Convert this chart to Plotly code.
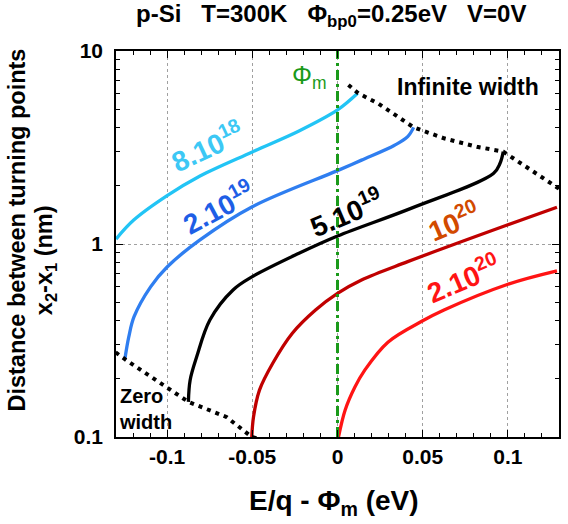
import math
import plotly.graph_objects as go

# Distance between classical turning points vs energy, p-Si, for several doping levels
x_8e18 = [-0.13, -0.1196, -0.1, -0.0807, -0.05, -0.0226, 0.0, 0.0118]
y_8e18 = [1.06, 1.33, 1.78, 2.25, 3.0, 3.85, 4.95, 6.04]

x_2e19 = [-0.1248, -0.1225, -0.1194, -0.1097, -0.1, -0.0807, -0.05, 0.0, 0.0141, 0.0335, 0.0412, 0.0447]
y_2e19 = [0.253, 0.33, 0.42, 0.60, 0.76, 1.05, 1.56, 2.40, 2.72, 3.25, 3.6, 4.02]

x_5e19 = [-0.0875, -0.0865, -0.0826, -0.0749, -0.0613, -0.05, -0.0226, 0.0, 0.0431, 0.0915, 0.0954, 0.0973]
y_5e19 = [0.152, 0.197, 0.261, 0.404, 0.578, 0.677, 0.895, 1.10, 1.53, 2.32, 2.62, 3.01]

x_1e20 = [-0.0503, -0.0493, -0.0458, -0.038, -0.0265, -0.0129, 0.0, 0.0141, 0.0412, 0.0992, 0.1288]
y_1e20 = [0.1, 0.127, 0.175, 0.241, 0.345, 0.455, 0.555, 0.651, 0.81, 1.25, 1.55]

x_2e20 = [0.0006, 0.0045, 0.0103, 0.016, 0.0296, 0.05, 0.0625, 0.0992, 0.1288]
y_2e20 = [0.1, 0.138, 0.182, 0.222, 0.31, 0.40, 0.455, 0.615, 0.725]

# Limiting curves
x_inf = [0.0064, 0.0122, 0.0238, 0.0335, 0.0447, 0.0625, 0.0818, 0.0973, 0.1108, 0.1283, 0.135]
y_inf = [6.67, 6.04, 5.35, 4.66, 4.02, 3.53, 3.19, 3.01, 2.52, 1.98, 1.8]

x_zero = [-0.1387, -0.1248, -0.1039, -0.0875, -0.0652, -0.0503, -0.037]
y_zero = [0.312, 0.253, 0.19, 0.152, 0.127, 0.1, 0.093]

x_ticks = [-0.1, -0.05, 0, 0.05, 0.1]
x_ticktext = ["-0.1", "-0.05", "0", "0.05", "0.1"]
y_ticks = [0.1, 1, 10]
y_ticktext = ["0.1", "1", "10"]

FONT = "Arial, Liberation Sans, sans-serif"

series = [
    (x_8e18, y_8e18, "#22c4f5"),
    (x_2e19, y_2e19, "#2f7ef0"),
    (x_5e19, y_5e19, "#000000"),
    (x_1e20, y_1e20, "#c00000"),
    (x_2e20, y_2e20, "#ff1414"),
]

fig = go.Figure()
for xs, ys, col in series:
    fig.add_trace(go.Scatter(x=xs, y=ys, mode="lines",
                             line=dict(color=col, width=3.3, shape="spline", smoothing=1.0),
                             showlegend=False, hoverinfo="skip"))

for xs, ys in [(x_inf, y_inf), (x_zero, y_zero)]:
    fig.add_trace(go.Scatter(x=xs, y=ys, mode="lines",
                             line=dict(color="black", width=4, dash="4px,5px"),
                             showlegend=False, hoverinfo="skip"))

# Metal work function marker
fig.add_trace(go.Scatter(x=[0, 0], y=[0.1, 10], mode="lines",
                         line=dict(color="#1a9a1a", width=3, dash="10px,4px,3px,4px"),
                         showlegend=False, hoverinfo="skip"))

# Doping labels (annotation y on a log axis is given as log10)
labels = [
    (-0.0766, 3.22, "8.10<sup>18</sup>", "#3cc8f5", -25),
    (-0.0702, 1.555, "2.10<sup>19</sup>", "#1e5ee6", -28),
    (0.0052, 1.465, "5.10<sup>19</sup>", "#000000", -23),
    (0.0679, 1.32, "10<sup>20</sup>", "#d24a00", -23),
    (0.0737, 0.665, "2.10<sup>20</sup>", "#ff1414", -23),
]
for x, y, t, c, a in labels:
    fig.add_annotation(x=x, y=math.log10(y), xref="x", yref="y", text=t, showarrow=False,
                       textangle=a, xanchor="center", yanchor="middle",
                       font=dict(family=FONT, size=28, color=c, weight="bold"))

fig.add_annotation(x=-0.0278, y=math.log10(7.3), xref="x", yref="y", text="Φ<sub>m</sub>",
                   showarrow=False, xanchor="left", yanchor="middle",
                   font=dict(family=FONT, size=25, color="#1a9a1a"))
fig.add_annotation(x=0.0338, y=math.log10(6.51), xref="x", yref="y", text="Infinite width",
                   showarrow=False, xanchor="left", yanchor="middle",
                   font=dict(family=FONT, size=23, color="black", weight="bold"))
fig.add_annotation(x=-0.1292, y=math.log10(0.14), xref="x", yref="y", text="Zero<br>width",
                   showarrow=False, xanchor="left", yanchor="middle", align="left",
                   font=dict(family=FONT, size=20, color="black", weight="bold"))

# Header line and axis titles
fig.add_annotation(x=0.485, y=1.092, xref="paper", yref="paper",
                   text="p-Si&nbsp;&nbsp;&nbsp;T=300K&nbsp;&nbsp;&nbsp;Φ<sub>bp0</sub>=0.25eV&nbsp;&nbsp;&nbsp;V=0V",
                   showarrow=False, xanchor="center", yanchor="middle",
                   font=dict(family=FONT, size=24, color="black", weight="bold"))
fig.add_annotation(x=-0.2225, y=0.536, xref="paper", yref="paper",
                   text="Distance between turning points", textangle=-90,
                   showarrow=False, xanchor="center", yanchor="middle",
                   font=dict(family=FONT, size=23.5, color="black", weight="bold"))
fig.add_annotation(x=-0.16, y=0.4585, xref="paper", yref="paper",
                   text="x<sub>2</sub>-x<sub>1</sub> (nm)", textangle=-90,
                   showarrow=False, xanchor="center", yanchor="middle",
                   font=dict(family=FONT, size=23.5, color="black", weight="bold"))
fig.add_annotation(x=0.493, y=-0.12, xref="paper", yref="paper",
                   text="E/q - Φ<sub>m</sub> (eV)",
                   showarrow=False, xanchor="center", yanchor="top",
                   font=dict(family=FONT, size=28, color="black", weight="bold"))

axis_common = dict(showline=True, linecolor="black", linewidth=1.5, mirror="allticks",
                   ticks="inside", ticklen=7, tickwidth=1.3, tickcolor="black",
                   showgrid=True, gridcolor="#a0a0a0", griddash="dot", gridwidth=1,
                   zeroline=False,
                   tickfont=dict(family=FONT, size=21, color="black", weight="bold"))

fig.update_xaxes(range=[-0.13, 0.13], tickmode="array", tickvals=x_ticks, ticktext=x_ticktext,
                 minor=dict(dtick=0.01, tick0=0, ticks="inside", ticklen=4, tickcolor="black",
                            showgrid=False),
                 **axis_common)
fig.update_yaxes(type="log", range=[-1, 1], tickmode="array", tickvals=y_ticks, ticktext=y_ticktext,
                 ticklabelstandoff=7,
                 minor=dict(tickmode="array",
                            tickvals=[k * 10.0 ** e for e in (-1, 0) for k in range(2, 10)],
                            ticks="inside", ticklen=4, tickcolor="black", showgrid=False),
                 **axis_common)

fig.update_layout(width=568, height=524, margin=dict(l=116, r=7, t=51, b=87),
                  plot_bgcolor="white", paper_bgcolor="white", showlegend=False)

fig.write_html("out.html")
